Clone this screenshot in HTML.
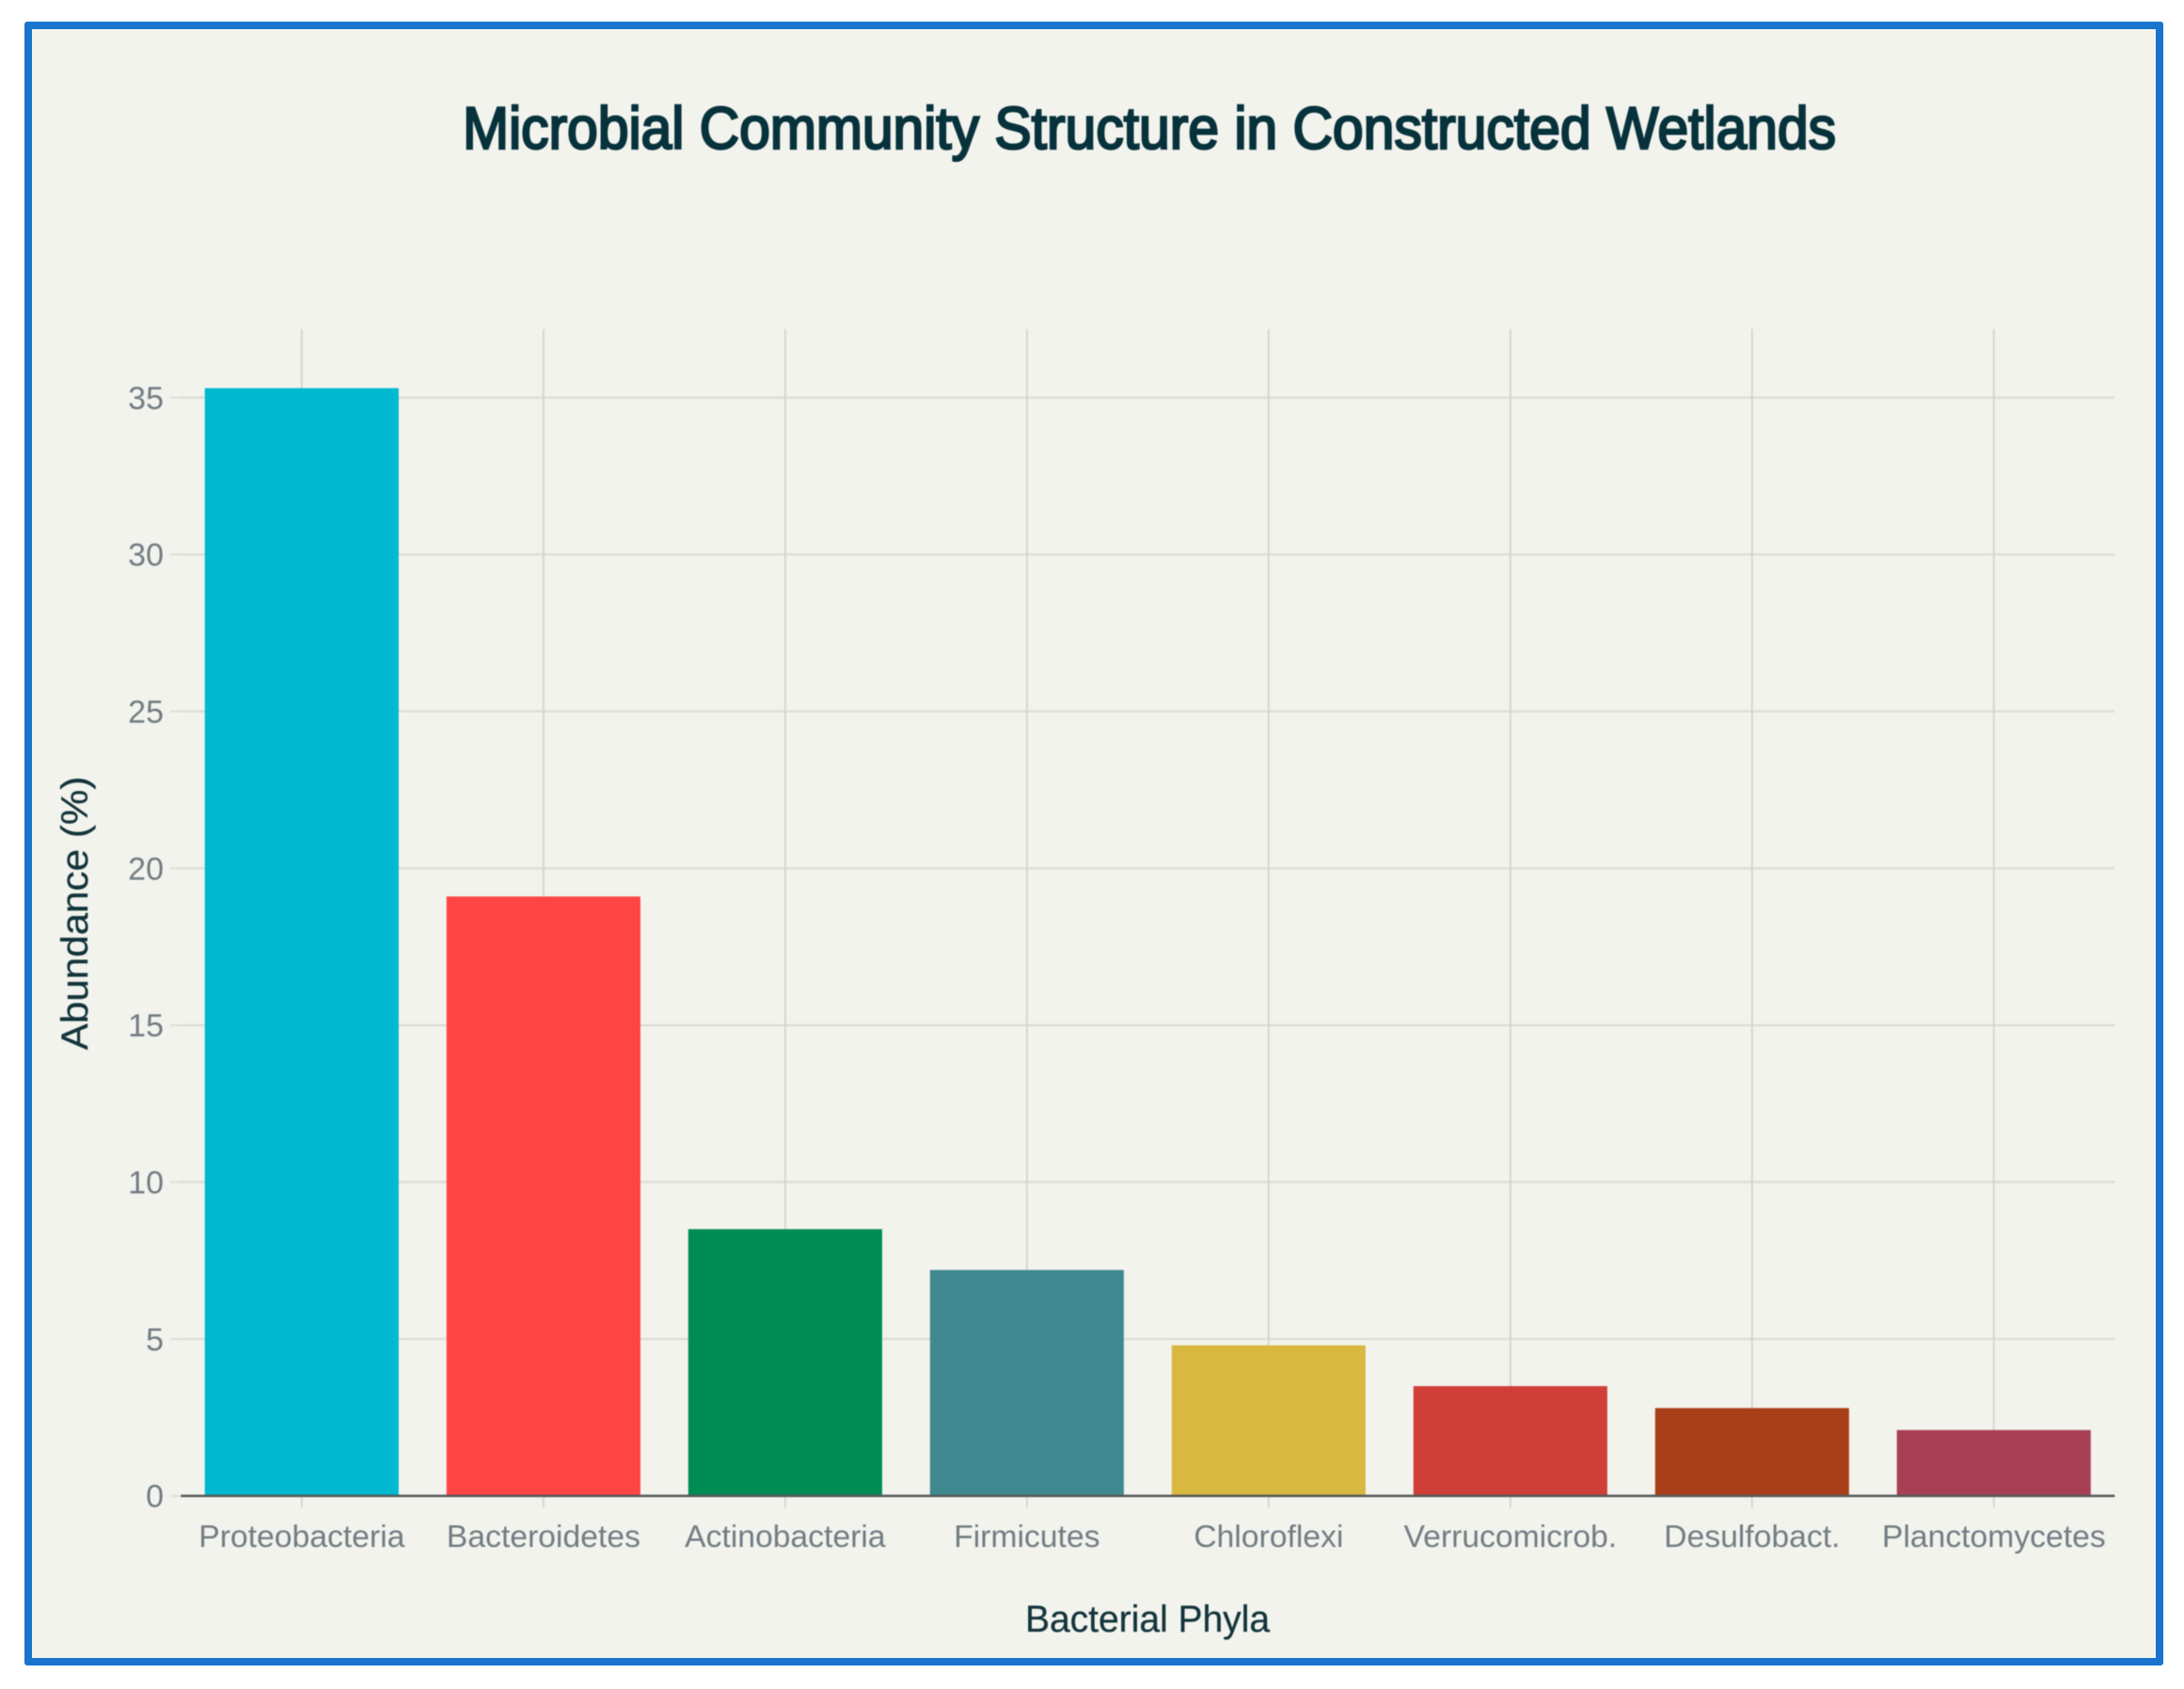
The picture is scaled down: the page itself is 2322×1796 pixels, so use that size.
<!DOCTYPE html>
<html>
<head>
<meta charset="utf-8">
<title>Microbial Community Structure in Constructed Wetlands</title>
<style>
html,body{margin:0;padding:0;background:#fff;width:2322px;height:1796px;overflow:hidden}
#frame{position:absolute;left:26px;top:23px;width:2258px;height:1732px;border:8px solid #1874CD;border-radius:3px;background:#F3F3EE}
svg{position:absolute;left:0;top:0}
text{font-family:"Liberation Sans",sans-serif}
#chart{filter:blur(0.5px)}
</style>
</head>
<body>
<div id="frame"></div>
<svg id="chart" width="2322" height="1796" viewBox="0 0 2322 1796" xmlns="http://www.w3.org/2000/svg">
  <text x="1222" y="158" text-anchor="middle" font-size="63" font-weight="400" fill="#07323C" stroke="#07323C" stroke-width="2.5" textLength="1460" lengthAdjust="spacingAndGlyphs">Microbial Community Structure in Constructed Wetlands</text>
  <text x="1220" y="1735" text-anchor="middle" font-size="40" fill="#13343B" stroke="#13343B" stroke-width="0.3" textLength="260" lengthAdjust="spacingAndGlyphs">Bacterial Phyla</text>
  <text transform="translate(93 971) rotate(-90)" text-anchor="middle" font-size="40" fill="#13343B" stroke="#13343B" stroke-width="0.3" textLength="291" lengthAdjust="spacingAndGlyphs">Abundance (%)</text>
  <g id="grid"></g>
  <g id="bars"></g>
  <g id="labels"></g>
</svg>
<script>
const categories = ["Proteobacteria","Bacteroidetes","Actinobacteria","Firmicutes","Chloroflexi","Verrucomicrob.","Desulfobact.","Planctomycetes"];
const abundance = [35.3,19.1,8.5,7.2,4.8,3.5,2.8,2.1];
const yTickLabels = [0,5,10,15,20,25,30,35];
const barColors = ["#00B8D0","#FF4444","#008B55","#408890","#D9B83F","#CF3F38","#A93F18","#A84055"];

const NS = "http://www.w3.org/2000/svg";
const plot = {left:192.3,right:2248.3,top:350,bottom:1590.7};
const unitsPerPx = 33.37;
const barFraction = 0.802;

function yScale(v){ return plot.bottom - v*unitsPerPx; }
function bandWidth(){ return (plot.right-plot.left)/categories.length; }
function xScale(i){ return plot.left + bandWidth()*(i+0.5); }
function make(tag, parent, attrs){
  const el = document.createElementNS(NS, tag);
  for (const k in attrs) el.setAttribute(k, attrs[k]);
  parent.appendChild(el);
  return el;
}

const grid = document.getElementById("grid");
const bars = document.getElementById("bars");
const labels = document.getElementById("labels");

yTickLabels.forEach(function(t){
  const y = yScale(t);
  if (t !== 0) {
    const line = make("line", grid, {x1:plot.left,x2:plot.right,y1:y,y2:y,stroke:"#DDDDD7","stroke-width":2.4});
    
    
  }
  const tick = make("line", grid, {x1:181,x2:plot.left,y1:y,y2:y,stroke:"#DFDFD9","stroke-width":2});
  
  
  const label = make("text", labels, {x:174,y:y+12,"text-anchor":"end","font-size":34,fill:"#727C82"});
  label.textContent = t;
  
  
});

categories.forEach(function(name,i){
  const x = xScale(i);
  const line = make("line", grid, {x1:x,x2:x,y1:plot.top,y2:1603,stroke:"#D3D2CC","stroke-width":1.8});
  
  
  const w = bandWidth()*barFraction;
  const rect = make("rect", bars, {x:x-w/2,y:yScale(abundance[i]),width:w,height:plot.bottom-yScale(abundance[i]),fill:barColors[i]});
  
  
  const label = make("text", labels, {x:x,y:1645,"text-anchor":"middle","font-size":33.7,fill:"#727C82"});
  label.textContent = name;
  
  
});

const axis = make("line", bars, {x1:plot.left,x2:plot.right,y1:plot.bottom,y2:plot.bottom,stroke:"#555B5B","stroke-width":2.6});


</script>
</body>
</html>
